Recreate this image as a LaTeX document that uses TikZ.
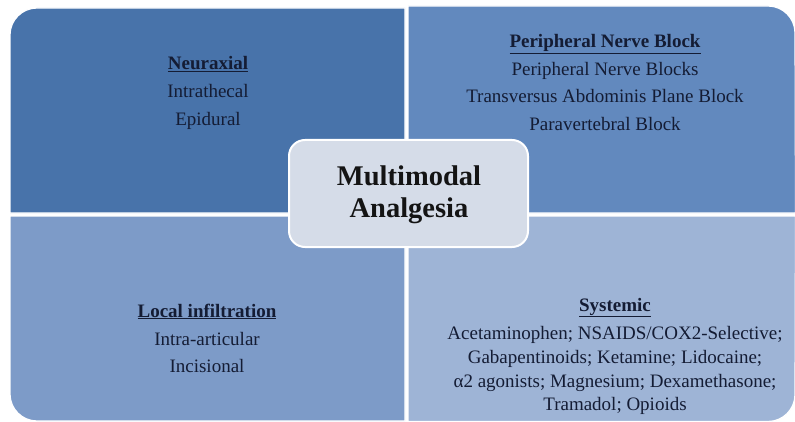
\documentclass[tikz,border=0pt]{standalone}
\usepackage{fontspec}
\setmainfont{Liberation Serif}
\definecolor{qtl}{RGB}{72,115,170}
\definecolor{qtr}{RGB}{98,137,190}
\definecolor{qbl}{RGB}{125,155,200}
\definecolor{qbr}{RGB}{158,180,214}
\definecolor{qcenter}{RGB}{213,220,232}
\definecolor{txt}{RGB}{20,28,52}
\tikzset{
  quad/.style={draw=white, line width=1.2pt},
  line/.style={anchor=base, inner sep=0pt, text=txt, font=\fontsize{19}{23}\selectfont},
  head/.style={line, font=\fontsize{19}{23}\selectfont\bfseries},
  hub/.style={draw=white, line width=2pt, fill=qcenter, rounded corners=16pt},
  hubtext/.style={anchor=base, inner sep=0pt, text=black!92, font=\fontsize{28.5}{32}\selectfont\bfseries}
}
\begin{document}
\begin{tikzpicture}[x=1pt,y=1pt]
\useasboundingbox (0,0) rectangle (795,421);
\fill[white] (0,0) rectangle (795,421);
% quadrants
\path[quad, fill=qtl] (405,208) -- (10,208) -- (10,386) arc[start angle=180, end angle=90, radius=27] -- (405,413) -- cycle;
\path[quad, fill=qtr] (408,208) -- (408,415) -- (768,415) arc[start angle=90, end angle=0, radius=27] -- (795.5,208) -- cycle;
\path[quad, fill=qbl] (405,205) -- (10,205) -- (10,27) arc[start angle=180, end angle=270, radius=27] -- (405,0) -- cycle;
\path[quad, fill=qbr] (408,205) -- (408,-0.5) -- (768,-0.5) arc[start angle=270, end angle=360, radius=27] -- (795.5,205) -- cycle;
% centre
\path[hub] (289,174) rectangle (528,281);
\node[hubtext] (m1) at (409,236) {Multimodal};
\node[hubtext] (m2) at (409,204) {Analgesia};
% top left
\node[head] (n0) at (208,351) {\underline{Neuraxial}};
\node[line] (n1) at (208,323) {Intrathecal};
\node[line] (n2) at (208,295) {Epidural};
% top right
\node[head] (p0) at (605,373) {\underline{Peripheral Nerve Block}};
\node[line] (p1) at (605,345) {Peripheral Nerve Blocks};
\node[line] (p2) at (605,318) {Transversus Abdominis Plane Block};
\node[line] (p3) at (605,290) {Paravertebral Block};
% bottom left
\node[head] (l0) at (207,104) {\underline{Local infiltration}};
\node[line] (l1) at (207,76) {Intra-articular};
\node[line] (l2) at (207,49) {Incisional};
% bottom right
\node[head] (s0) at (615,110) {\underline{Systemic}};
\node[line] (s1) at (615,82) {Acetaminophen; NSAIDS/COX2-Selective;};
\node[line] (s2) at (615,58) {Gabapentinoids; Ketamine; Lidocaine;};
\node[line] (s3) at (615,34) {α2 agonists; Magnesium; Dexamethasone;};
\node[line] (s4) at (615,11) {Tramadol; Opioids};
\end{tikzpicture}
\end{document}
